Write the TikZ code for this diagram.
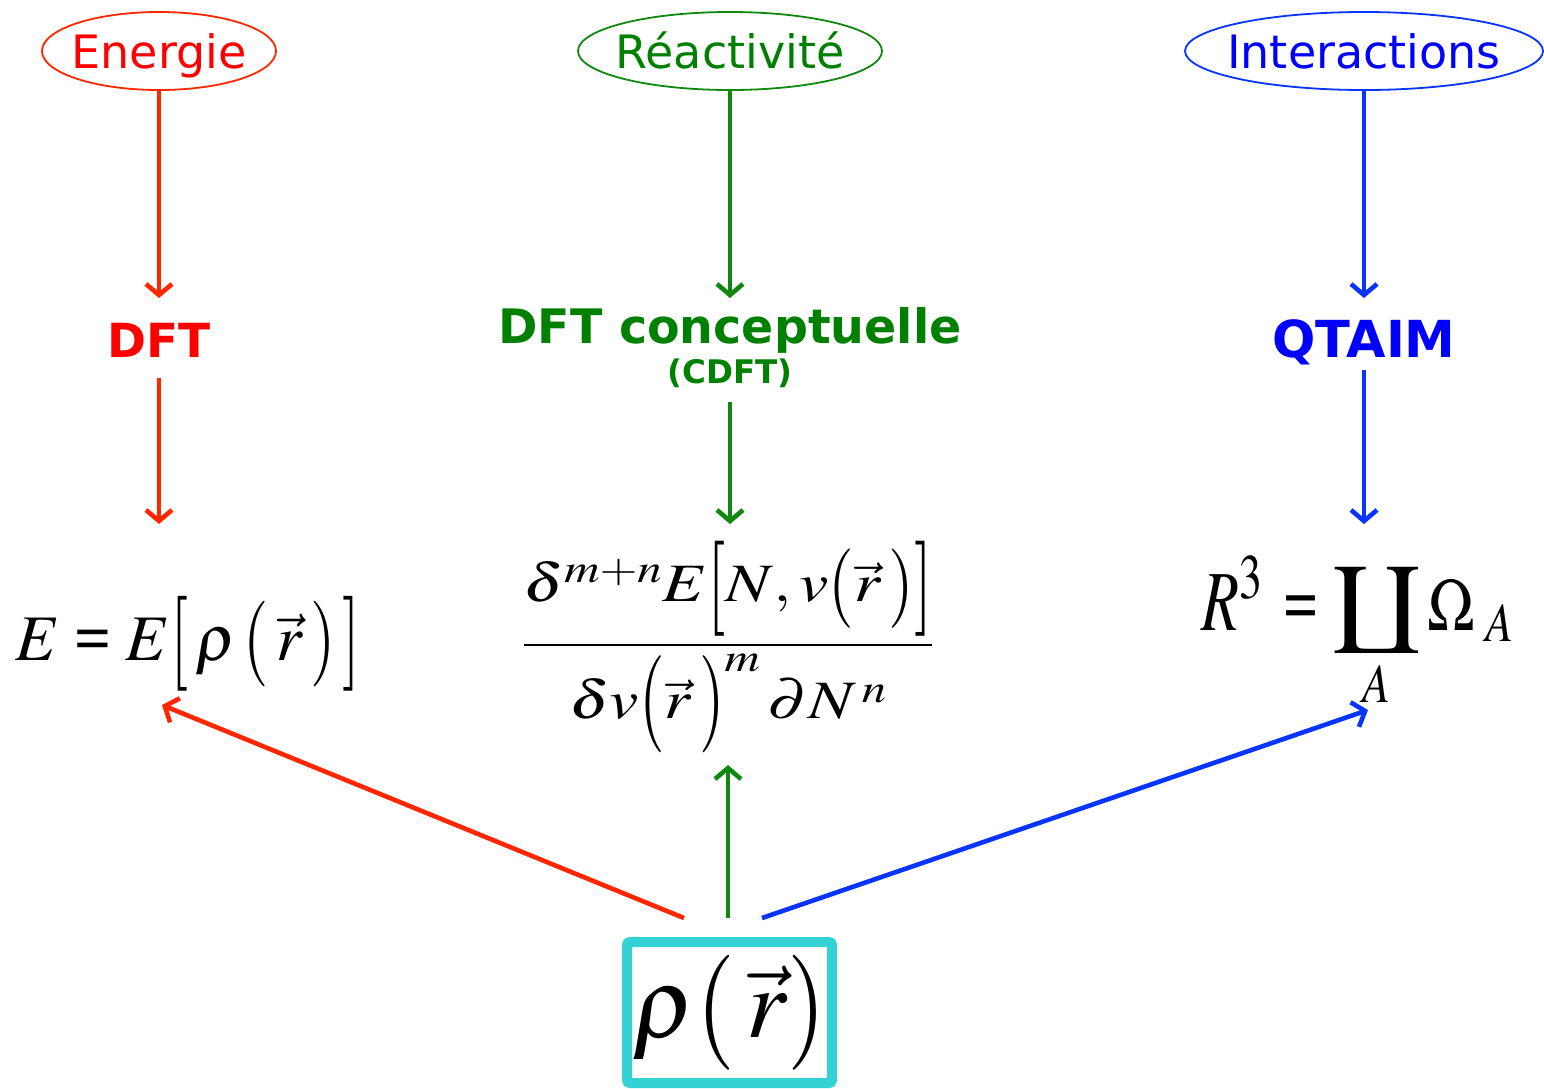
\documentclass[tikz,border=0pt]{standalone}
\usepackage{mathptmx}
\usepackage{amsmath}
\usepackage{fontspec}
\setmainfont{DejaVu Sans}
\newfontfamily\eqfont{Liberation Serif}
\usetikzlibrary{arrows.meta,shapes.geometric}
\definecolor{redT}{RGB}{255,0,0}
\definecolor{redA}{RGB}{255,38,0}
\definecolor{greenT}{RGB}{0,128,0}
\definecolor{greenA}{RGB}{16,136,16}
\definecolor{blueT}{RGB}{0,0,255}
\definecolor{blueA}{RGB}{8,52,255}
\definecolor{cyanB}{RGB}{52,210,212}
\newcommand{\mycoprod}{\mathop{\vcenter{\hbox{\scalebox{1.2}[-0.92]{$\displaystyle\prod$}}}}\limits}
\newcommand{\dl}[2]{\mathopen{\vcenter{\hbox{\scalebox{1}[#1]{$#2$}}}}}
\newcommand{\dr}[2]{\mathclose{\vcenter{\hbox{\scalebox{1}[#1]{$#2$}}}}}
\newcommand{\myeq}{\mathrel{\hbox{\eqfont\bfseries =}}}
\newcommand{\tl}[1]{\makebox[0pt]{\raisebox{-17pt}[0pt][0pt]{#1}}}
\tikzset{
  topic/.style={ellipse,draw,line width=1.8pt,inner sep=0pt,minimum height=78pt,
     font=\fontsize{46}{50}\selectfont},
  method/.style={inner sep=0pt,font=\fontsize{47}{50}\selectfont\bfseries,text height=34pt,text depth=0pt},
  arr/.style={line width=4.6pt,-{Straight Barb[length=11pt,width=26pt,line width=4.6pt]}},
  formula/.style={inner sep=0pt,text=black}
}
\begin{document}
\begin{tikzpicture}[x=1pt,y=-1pt]
\useasboundingbox (0,0) rectangle (1544,1088);
% topics
\node[topic,draw=redA,text=redT,minimum width=234pt] (e1) at (159,51) {\tl{Energie}};
\node[topic,draw=greenA,text=greenT,minimum width=304pt] (e2) at (730,51) {\tl{Réactivité}};
\node[topic,draw=blueA,text=blueT,minimum width=358pt] (e3) at (1364,51) {\tl{Interactions}};
% methods
\node[method,text=redT] (m1) at (159,340) {DFT};
\node[method,text=greenT,font=\fontsize{47.5}{50}\selectfont\bfseries] (m2) at (730,326) {DFT conceptuelle};
\node[inner sep=0pt,text=greenT,font=\fontsize{32.5}{34}\selectfont\bfseries] (m2b) at (730,373) {(CDFT)};
\node[method,text=blueT,font=\fontsize{51}{54}\selectfont\bfseries] (m3) at (1364,340) {QTAIM};
% formulas
\node[formula,anchor=base,font=\fontsize{65}{70}\selectfont] (f1) at (188,660)
  {$E \myeq E\dl{1.46}{[}\,\rho\,\dl{1.32}{(}\,\vec{r}\,\dr{1.32}{)}\,\dr{1.46}{]}$};
\node[formula,font=\fontsize{54}{60}\selectfont] (f2) at (728,647)
  {\scalebox{1.22}[1]{$\genfrac{}{}{2.6pt}{0}{\delta^{m+n}E\dl{1.76}{[}N,v\dl{1.47}{(}\vec{r}\,\dr{1.47}{)}\dr{1.76}{]}}{\delta v\dl{1.8}{(}\vec{r}\,\dr{1.8}{)}^{m}\,\partial N^{\,n}}$}};
\node[formula,anchor=base,font=\fontsize{62}{70}\selectfont] (f3) at (1358,630)
  {\scalebox{1}[1.2]{$\displaystyle \hbox{\scalebox{1}[1.15]{$R^{3}$}}\, \myeq \mycoprod_{A}\Omega_{\;A}$}};
% density box
\node[draw=cyanB,line width=10pt,rounded corners=3pt,minimum width=205pt,minimum height=141pt,
  inner sep=0pt,font=\fontsize{100}{110}\selectfont] (rho) at (729.5,1012.5) {$\rho\dl{1.15}{(}\,\vec{r}\dr{1.15}{)}$};
% coordinates
\coordinate (a1e) at (159,298);
\coordinate (a2e) at (730,298);
\coordinate (a3e) at (1364,298);
\coordinate (b1s) at (159,378);
\coordinate (b2s) at (730,402);
\coordinate (b3s) at (1364,370);
\coordinate (b1e) at (159,524);
\coordinate (b2e) at (730,524);
\coordinate (b3e) at (1364,524);
\coordinate (c1s) at (684,918);
\coordinate (c2s) at (728,918);
\coordinate (c3s) at (762,918);
\coordinate (c1e) at (162,705);
\coordinate (c2e) at (728,765);
\coordinate (c3e) at (1368,710);
% arrows
\draw[arr,redA] (e1.south) -- (a1e);
\draw[arr,greenA] (e2.south) -- (a2e);
\draw[arr,blueA] (e3.south) -- (a3e);
\draw[arr,redA] (b1s) -- (b1e);
\draw[arr,greenA] (b2s) -- (b2e);
\draw[arr,blueA] (b3s) -- (b3e);
\draw[arr,redA] (c1s) -- (c1e);
\draw[arr,greenA] (c2s) -- (c2e);
\draw[arr,blueA] (c3s) -- (c3e);
\end{tikzpicture}
\end{document}
